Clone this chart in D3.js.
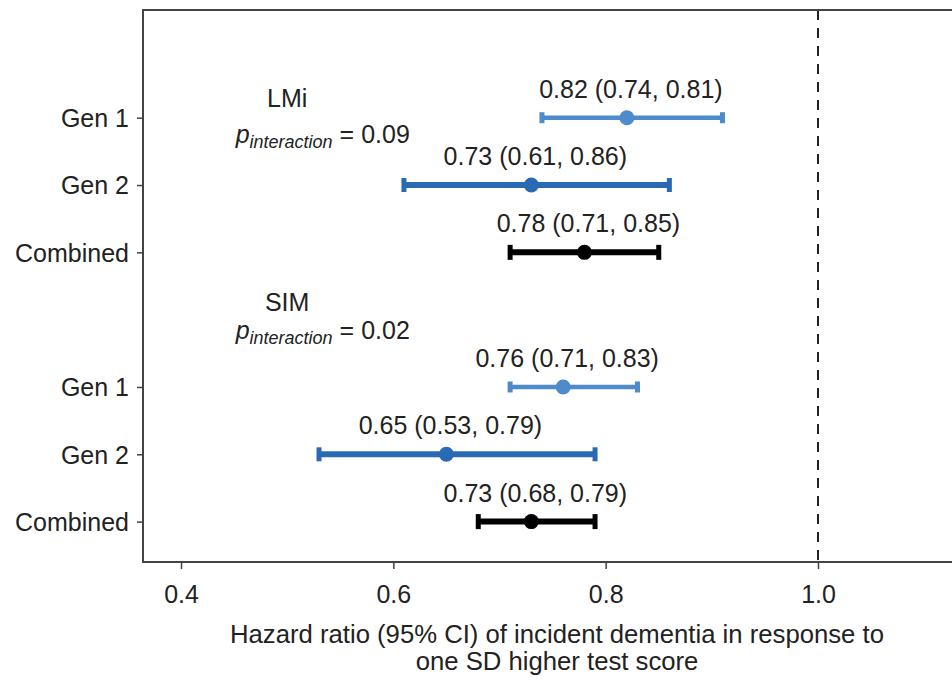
<!DOCTYPE html>
<html>
<head>
<meta charset="utf-8">
<script src="https://cdn.jsdelivr.net/npm/d3@7"></script>
<style>
  body { margin: 0; background: #fff; }
  text { font-family: "Liberation Sans", Arial, sans-serif; fill: #222; }
</style>
</head>
<body>
<div id="chart"></div>
<script>
// data
const groups = ["LMi", "SIM"];
const cohorts = ["Gen 1", "Gen 2", "Combined"];
const hr    = [0.82, 0.73, 0.78, 0.76, 0.65, 0.73];
const lower = [0.74, 0.61, 0.71, 0.71, 0.53, 0.68];
const upper = [0.91, 0.86, 0.85, 0.83, 0.79, 0.79];
const ciLabels = ["0.82 (0.74, 0.81)", "0.73 (0.61, 0.86)", "0.78 (0.71, 0.85)",
                  "0.76 (0.71, 0.83)", "0.65 (0.53, 0.79)", "0.73 (0.68, 0.79)"];
const pInteraction = ["0.09", "0.02"];
const xTicks = [0.4, 0.6, 0.8, 1.0];
const refLine = 1.0;

const width = 952, height = 680;
const panel = {left: 143, top: 10, bottom: 562, right: 970};
const fs = 25;

const colors = {"Gen 1": "#4d8bcb", "Gen 2": "#2a6ab4", "Combined": "#000"};
const lineW = {"Gen 1": 4.5, "Gen 2": 6, "Combined": 6};
const capH = {"Gen 1": 11, "Gen 2": 14, "Combined": 15};

// one row per estimate, plus a header row for each group
let rowKeys = [];
let rows = [];
groups.forEach(function (g, gi) {
    rowKeys.push(g + "|hdr");
    cohorts.forEach(function (c, ci) {
        const i = gi * cohorts.length + ci;
        rowKeys.push(g + "|" + c);
        rows.push({key: g + "|" + c, group: g, cohort: c, hr: hr[i], lo: lower[i], hi: upper[i], label: ciLabels[i]});
    });
});

const svg = d3.select("#chart").append("svg")
    .attr("width", width)
    .attr("height", height);

const x = d3.scaleLinear().domain([0.4, 1.0]).range([181, 818]);
const y = d3.scalePoint().domain(rowKeys).range([panel.top, panel.bottom]).padding(0.6);

// reference line
svg.append("line")
    .attr("x1", x(refLine)).attr("x2", x(refLine))
    .attr("y1", panel.top).attr("y2", panel.bottom)
    .attr("stroke", "#222")
    .attr("stroke-width", 2)
    .attr("stroke-dasharray", "10,8");

// x axis
const xAxis = svg.append("g")
    .attr("transform", "translate(0," + panel.bottom + ")")
    .call(d3.axisBottom(x).tickValues(xTicks).tickFormat(d3.format(".1f")).tickSize(7).tickSizeOuter(0));
xAxis.select(".domain").remove();
xAxis.selectAll("line").attr("stroke", "#444").attr("stroke-width", 1.5);
xAxis.selectAll("text").attr("font-size", fs).attr("dy", "0").attr("y", 41).attr("fill", "#222");

// y axis
const yAxis = svg.append("g")
    .attr("transform", "translate(" + panel.left + ",0)")
    .call(d3.axisLeft(y).tickSize(6).tickFormat(function (k) {
        return k.endsWith("|hdr") ? "" : k.split("|")[1];
    }));
yAxis.select(".domain").remove();
yAxis.selectAll(".tick").filter(function (k) { return k.endsWith("|hdr"); }).remove();
yAxis.selectAll("line").attr("stroke", "#444").attr("stroke-width", 1.5);
yAxis.selectAll("text").attr("font-size", fs).attr("x", -14).attr("dy", "0.35em").attr("fill", "#222");

// panel frame (right side runs off the page)
svg.append("path")
    .attr("d", "M" + panel.right + "," + panel.top + "H" + panel.left + "V" + panel.bottom + "H" + panel.right)
    .attr("fill", "none")
    .attr("stroke", "#444")
    .attr("stroke-width", 2);

// confidence intervals
const est = svg.append("g").selectAll("g")
    .data(rows)
    .enter().append("g");

est.append("line")
    .attr("x1", function (d) { return x(d.lo); })
    .attr("x2", function (d) { return x(d.hi); })
    .attr("y1", function (d) { return y(d.key); })
    .attr("y2", function (d) { return y(d.key); })
    .attr("stroke", function (d) { return colors[d.cohort]; })
    .attr("stroke-width", function (d) { return lineW[d.cohort]; });

["lo", "hi"].forEach(function (end) {
    est.append("rect")
        .attr("x", function (d) { return x(d[end]) - 2.5; })
        .attr("y", function (d) { return y(d.key) - capH[d.cohort] / 2; })
        .attr("width", 5)
        .attr("height", function (d) { return capH[d.cohort]; })
        .attr("fill", function (d) { return colors[d.cohort]; });
});

est.append("circle")
    .attr("cx", function (d) { return x(d.hr); })
    .attr("cy", function (d) { return y(d.key); })
    .attr("r", 7.5)
    .attr("fill", function (d) { return colors[d.cohort]; });

est.append("text")
    .attr("x", function (d) { return x(d.hr) + 4; })
    .attr("y", function (d) { return y(d.key) - 20; })
    .attr("text-anchor", "middle")
    .attr("font-size", fs)
    .text(function (d) { return d.label; });

// group titles with interaction p-values
const headerOffsets = [{title: 57, p: 93}, {title: -9, p: 19}];
groups.forEach(function (g, gi) {
    const y0 = y(g + "|hdr");
    svg.append("text")
        .attr("x", x(0.5))
        .attr("y", y0 + headerOffsets[gi].title)
        .attr("text-anchor", "middle")
        .attr("font-size", fs)
        .text(g);
    const t = svg.append("text")
        .attr("x", x(0.4515))
        .attr("y", y0 + headerOffsets[gi].p)
        .attr("font-size", fs);
    t.append("tspan").attr("font-style", "italic").text("p");
    t.append("tspan").attr("font-style", "italic").attr("font-size", 18).attr("dy", 5).text("interaction");
    t.append("tspan").attr("dy", -5).text(" = " + pInteraction[gi]);
});

// x axis title
const title = svg.append("text")
    .attr("x", 557)
    .attr("y", 643)
    .attr("text-anchor", "middle")
    .attr("font-size", 25.7);
title.append("tspan").attr("x", 557).text("Hazard ratio (95% CI) of incident dementia in response to");
title.append("tspan").attr("x", 557).attr("dy", 27).text("one SD higher test score");
</script>
</body>
</html>
